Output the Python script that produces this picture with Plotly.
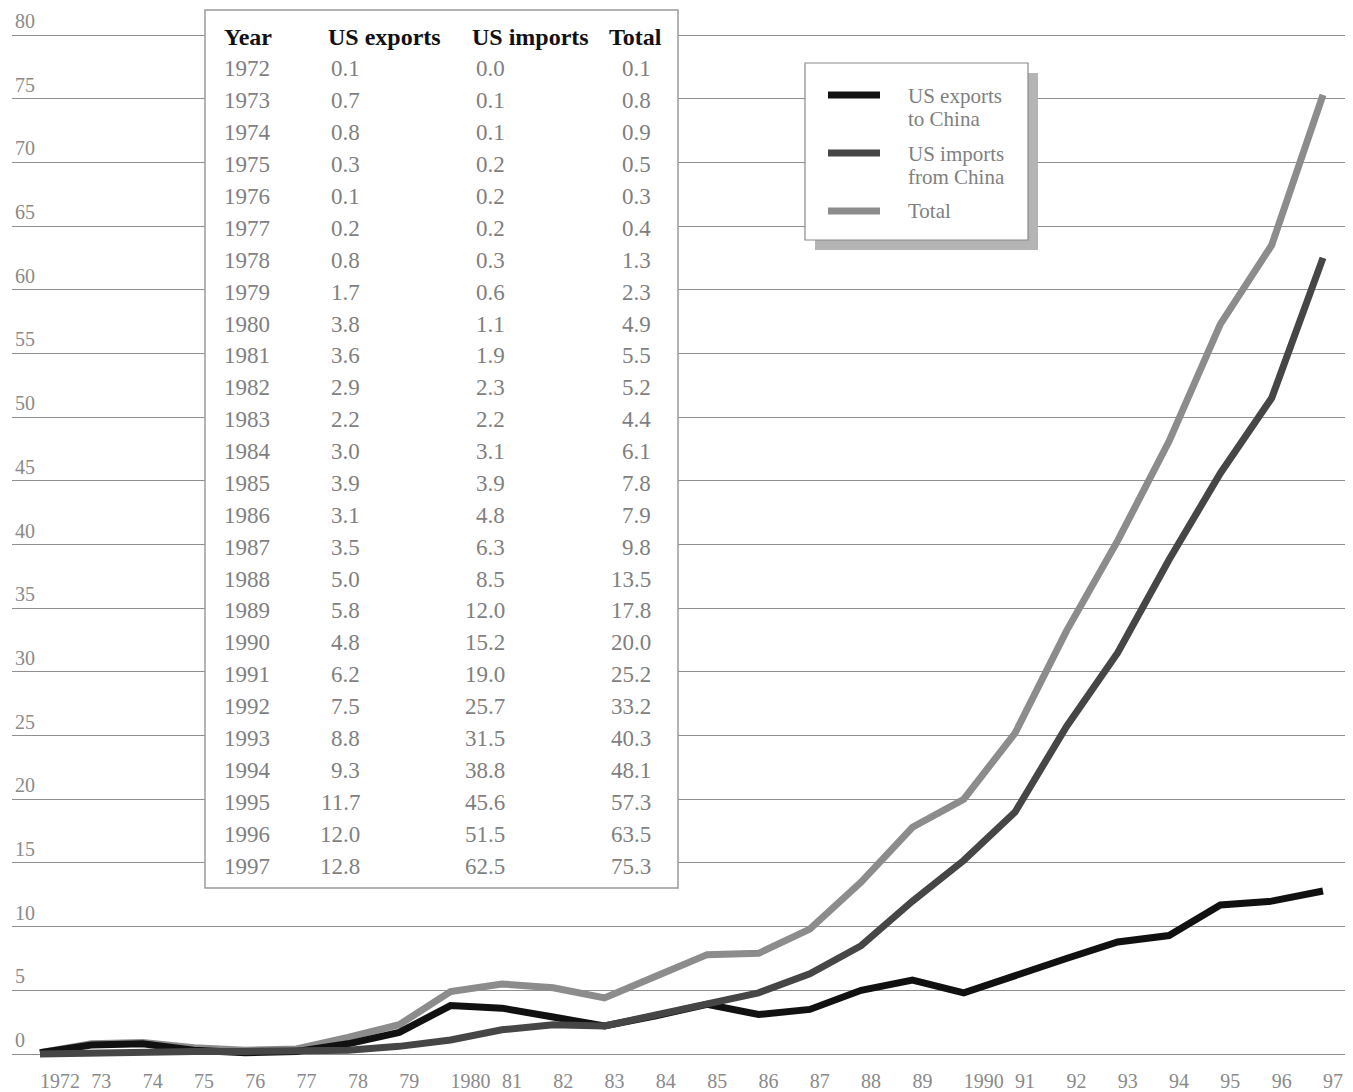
import plotly.graph_objects as go

years = list(range(1972, 1998))
us_exports = [0.1, 0.7, 0.8, 0.3, 0.1, 0.2, 0.8, 1.7, 3.8, 3.6, 2.9, 2.2, 3.0, 3.9, 3.1, 3.5,
              5.0, 5.8, 4.8, 6.2, 7.5, 8.8, 9.3, 11.7, 12.0, 12.8]
us_imports = [0.0, 0.1, 0.1, 0.2, 0.2, 0.2, 0.3, 0.6, 1.1, 1.9, 2.3, 2.2, 3.1, 3.9, 4.8, 6.3,
              8.5, 12.0, 15.2, 19.0, 25.7, 31.5, 38.8, 45.6, 51.5, 62.5]
total = [0.1, 0.8, 0.9, 0.5, 0.3, 0.4, 1.3, 2.3, 4.9, 5.5, 5.2, 4.4, 6.1, 7.8, 7.9, 9.8,
         13.5, 17.8, 20.0, 25.2, 33.2, 40.3, 48.1, 57.3, 63.5, 75.3]
x_tick_labels = ["1972", "73", "74", "75", "76", "77", "78", "79", "1980", "81", "82", "83",
                 "84", "85", "86", "87", "88", "89", "1990", "91", "92", "93", "94", "95",
                 "96", "97"]
y_ticks = list(range(0, 81, 5))
table_headers = ["Year", "US exports", "US imports", "Total"]
legend_labels = [["US exports", "to China"], ["US imports", "from China"], ["Total"]]

W, H = 1353, 1092
OFF = 8  # page body margin offset
ML, MR, MT, MB = 4, 8, 0, 33
PW, PH = W - ML - MR, H - MT - MB
SCALE = 12.7375  # px per unit
Y0_FIG = 1054 - OFF  # figure y of value 0

def px(x):
    return (x - OFF - ML) / PW

def py(y):
    return (H - MB - (y - OFF)) / PH

FONT = "Liberation Serif"
C_EXP, C_IMP, C_TOT = "#111111", "#464646", "#8c8c8c"

fig = go.Figure()
fig.add_trace(go.Scatter(x=years, y=total, mode="lines", line=dict(color=C_TOT, width=7),
                         name="Total", showlegend=False))
fig.add_trace(go.Scatter(x=years, y=us_exports, mode="lines", line=dict(color=C_EXP, width=7),
                         name="US exports to China", showlegend=False))
fig.add_trace(go.Scatter(x=years, y=us_imports, mode="lines", line=dict(color=C_IMP, width=7),
                         name="US imports from China", showlegend=False))

shapes = []
annotations = []

# Data table box
shapes.append(dict(type="rect", xref="paper", yref="paper", x0=px(205), x1=px(678),
                   y0=py(888), y1=py(10), fillcolor="white",
                   line=dict(color="#9a9a9a", width=1.5), layer="above"))
header_x = [(222, "left"), (443, "right"), (591, "right"), (664, "right")]
for (hx, anc), t in zip(header_x, table_headers):
    annotations.append(dict(xref="paper", yref="paper", x=px(hx), y=py(37), text="<b>" + t + "</b>",
                            showarrow=False, xanchor=anc, yanchor="middle",
                            font=dict(family=FONT, size=24, color="#111")))
row_h = (866 - 69) / 25
for i, yr in enumerate(years):
    yy = py(69 + i * row_h)
    vals = [(222, "left", str(yr)), (362, "right", f"{us_exports[i]:.1f}"),
            (507, "right", f"{us_imports[i]:.1f}"), (653, "right", f"{total[i]:.1f}")]
    for vx, anc, t in vals:
        annotations.append(dict(xref="paper", yref="paper", x=px(vx), y=yy, text=t,
                                showarrow=False, xanchor=anc, yanchor="middle",
                                font=dict(family=FONT, size=23, color="#7f7f7f")))

# Legend box with shadow
shapes.append(dict(type="rect", xref="paper", yref="paper", x0=px(815), x1=px(1038),
                   y0=py(250), y1=py(73), fillcolor="#b4b4b4", line=dict(width=0), layer="above"))
shapes.append(dict(type="rect", xref="paper", yref="paper", x0=px(805), x1=px(1028),
                   y0=py(240), y1=py(63), fillcolor="white",
                   line=dict(color="#8a8a8a", width=1.2), layer="above"))
leg_items = [(95, [96, 119], C_EXP), (153, [154, 177], C_IMP), (211, [211], C_TOT)]
for (ly, tys, col), labs in zip(leg_items, legend_labels):
    shapes.append(dict(type="line", xref="paper", yref="paper", x0=px(828), x1=px(880),
                       y0=py(ly), y1=py(ly), line=dict(color=col, width=7), layer="above"))
    for ty, lab in zip(tys, labs):
        annotations.append(dict(xref="paper", yref="paper", x=px(906), y=py(ty), text=lab,
                                showarrow=False, xanchor="left", yanchor="middle", align="left",
                                font=dict(family=FONT, size=21, color="#7f7f7f")))

y_lo = -(H - MB - Y0_FIG) / SCALE
y_hi = (Y0_FIG - MT) / SCALE

fig.update_layout(
    width=W, height=H,
    margin=dict(l=ML, r=MR, t=MT, b=MB, pad=0),
    paper_bgcolor="white", plot_bgcolor="white",
    showlegend=False,
    shapes=shapes, annotations=annotations,
    font=dict(family=FONT),
    xaxis=dict(range=[1972 - 28 / 51.32, 1997 + 30 / 51.32], tickmode="array",
               tickvals=years, ticktext=x_tick_labels, ticklabelposition="outside right",
               showgrid=False, zeroline=False, showline=False, ticks="",
               tickfont=dict(family=FONT, size=20, color="#8a8a8a")),
    yaxis=dict(range=[y_lo, y_hi], tickmode="array", tickvals=y_ticks,
               ticktext=[str(v) for v in y_ticks], ticklabelposition="inside top",
               showgrid=True, gridcolor="#8f8f8f", gridwidth=1.3, zeroline=True,
               zerolinecolor="#8f8f8f", zerolinewidth=1.3, showline=False, ticks="",
               tickfont=dict(family=FONT, size=20, color="#8a8a8a")),
)

fig.write_html("out.html")
